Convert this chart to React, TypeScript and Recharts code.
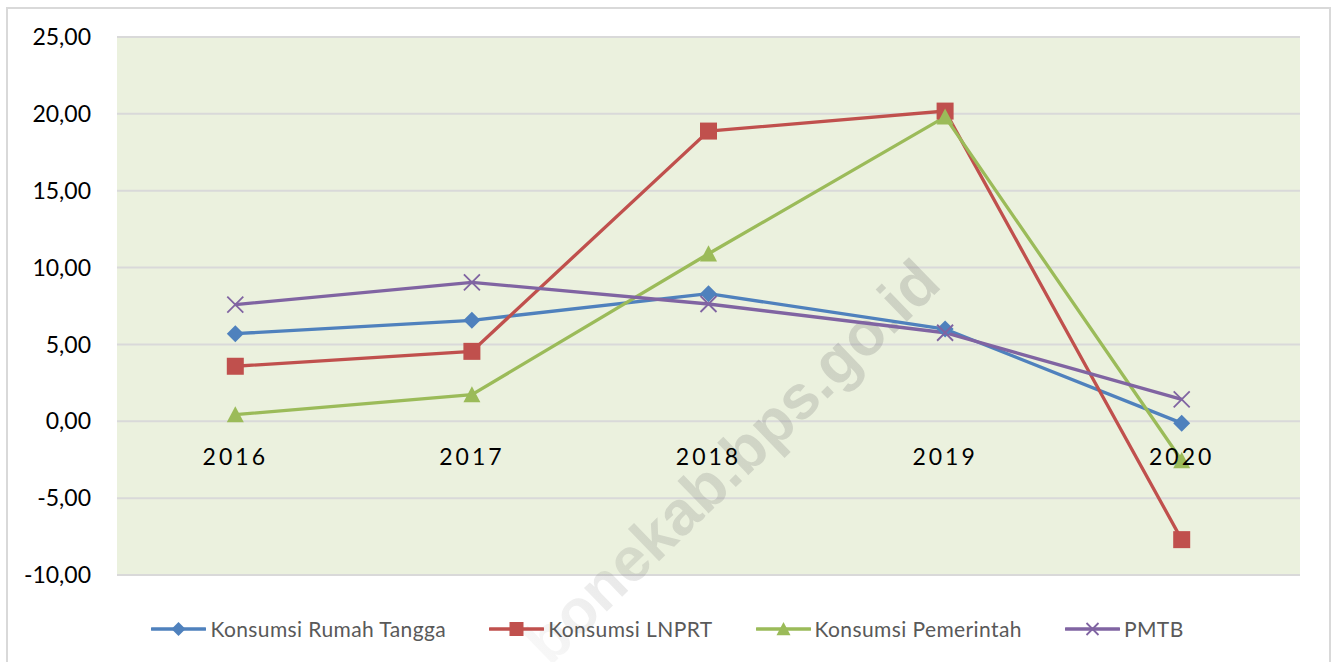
import { LineChart, Line, XAxis, YAxis, CartesianGrid, Legend, ReferenceDot } from 'recharts'

const years = ['2016', '2017', '2018', '2019', '2020']
const rumahTangga = [5.7, 6.57, 8.3, 6.0, -0.12]
const lnprt = [3.58, 4.55, 18.88, 20.18, -7.7]
const pemerintah = [0.43, 1.73, 10.9, 19.8, -2.55]
const pmtb = [7.59, 9.04, 7.63, 5.76, 1.43]
const yTicks = [-10, -5, 0, 5, 10, 15, 20, 25]

type Marker = 'diamond' | 'square' | 'triangle' | 'cross'

const series: { key: string; name: string; color: string; marker: Marker }[] = [
  { key: 'rt', name: 'Konsumsi Rumah Tangga', color: '#4F81BD', marker: 'diamond' },
  { key: 'lnprt', name: 'Konsumsi LNPRT', color: '#C0504D', marker: 'square' },
  { key: 'pem', name: 'Konsumsi Pemerintah', color: '#9BBB59', marker: 'triangle' },
  { key: 'pmtb', name: 'PMTB', color: '#8064A2', marker: 'cross' },
]

const data = years.map((year, i) => ({
  year,
  rt: rumahTangga[i],
  lnprt: lnprt[i],
  pem: pemerintah[i],
  pmtb: pmtb[i],
}))

const fmt = (v: number) => v.toFixed(2).replace('.', ',')

function MarkerShape({ cx, cy, kind, color, s }: { cx: number; cy: number; kind: Marker; color: string; s: number }) {
  if (kind === 'diamond')
    return <path d={`M${cx},${cy - s}L${cx + s},${cy}L${cx},${cy + s}L${cx - s},${cy}Z`} fill={color} />
  if (kind === 'square')
    return <rect x={cx - s} y={cy - s} width={s * 2} height={s * 2} fill={color} />
  if (kind === 'triangle')
    return <path d={`M${cx},${cy - s}L${cx + s},${cy + s * 0.9}L${cx - s},${cy + s * 0.9}Z`} fill={color} />
  return (
    <path
      d={`M${cx - s},${cy - s}L${cx + s},${cy + s}M${cx - s},${cy + s}L${cx + s},${cy - s}`}
      stroke={color}
      strokeWidth={1.8}
      fill="none"
    />
  )
}

function LegendBox() {
  return (
    <div
      style={{
        display: 'flex',
        justifyContent: 'center',
        alignItems: 'center',
        fontFamily: 'Lato, sans-serif',
        fontSize: 21,
        letterSpacing: 0.4,
        color: '#595959',
      }}
    >
      {series.map((s, i) => (
        <div key={s.key} style={{ display: 'flex', alignItems: 'center', marginLeft: i === 0 ? 0 : 43 }}>
          <svg width={55} height={20} style={{ marginRight: 4 }}>
            <line x1={1} y1={10} x2={54} y2={10} stroke={s.color} strokeWidth={3.5} strokeLinecap="round" />
            <MarkerShape cx={27.5} cy={10} kind={s.marker} color={s.color} s={s.marker === 'cross' ? 6 : 7} />
          </svg>
          <span>{s.name}</span>
        </div>
      ))}
    </div>
  )
}

export default function App() {
  return (
    <div style={{ position: 'relative', width: 1335, height: 662, overflow: 'hidden', background: '#fff' }}>
      <style>{'body{margin:0}'}</style>
      <div
        style={{
          position: 'absolute',
          left: 6,
          top: 7,
          width: 1321,
          height: 680,
          border: '2px solid #D9D9D9',
        }}
      />
      <div style={{ position: 'absolute', left: 0, top: 0 }}>
        <LineChart width={1335} height={662} data={data} margin={{ top: 37, right: 35, bottom: 87, left: 0 }}>
          <defs>
            <linearGradient id="wmFade" x1="0" y1="0" x2="1" y2="0">
              <stop offset="0%" stopColor="#6e6e6e" stopOpacity={0.05} />
              <stop offset="30%" stopColor="#6e6e6e" stopOpacity={0.2} />
              <stop offset="100%" stopColor="#6e6e6e" stopOpacity={0.24} />
            </linearGradient>
          </defs>
          <CartesianGrid vertical={false} stroke="#D9D9D9" strokeWidth={2} fill="#EBF1DE" fillOpacity={1} />
          <XAxis dataKey="year" scale="band" hide />
          <YAxis
            domain={[-10, 25]}
            ticks={yTicks}
            width={117}
            axisLine={false}
            tickLine={false}
            tickSize={0}
            tickMargin={26}
            tickFormatter={fmt}
            tick={{ fill: '#000', fontSize: 23, fontFamily: 'Lato, sans-serif' }}
            interval={0}
          />
          <text
            x={735}
            y={465}
            textAnchor="middle"
            dominantBaseline="middle"
            transform="rotate(-44 735 465)"
            fontFamily="'Liberation Sans', Arial, sans-serif"
            fontWeight="bold"
            fontSize={62}
            fill="url(#wmFade)"
          >
            bonekab.bps.go.id
          </text>
          {years.map((y) => (
            <ReferenceDot
              key={y}
              x={y}
              y={0}
              r={1}
              fill="none"
              stroke="none"
              label={{
                value: y,
                position: 'bottom',
                offset: 26,
                fill: '#000',
                fontSize: 23,
                fontFamily: 'Lato, sans-serif',
                letterSpacing: 3,
              }}
            />
          ))}
          {series.map((s) => (
            <Line
              key={s.key}
              dataKey={s.key}
              name={s.name}
              stroke={s.color}
              strokeWidth={3.3}
              isAnimationActive={false}
              dot={(p: any) => (
                <MarkerShape
                  key={`${s.key}-${p.index}`}
                  cx={p.cx}
                  cy={p.cy}
                  kind={s.marker}
                  color={s.color}
                  s={s.marker === 'cross' ? 8 : 8.5}
                />
              )}
              activeDot={false}
            />
          ))}
          <Legend
            layout="horizontal"
            verticalAlign="middle"
            align="center"
            content={() => <LegendBox />}
            wrapperStyle={{ top: 616, left: 0, width: 1335 }}
          />
        </LineChart>
      </div>
    </div>
  )
}
